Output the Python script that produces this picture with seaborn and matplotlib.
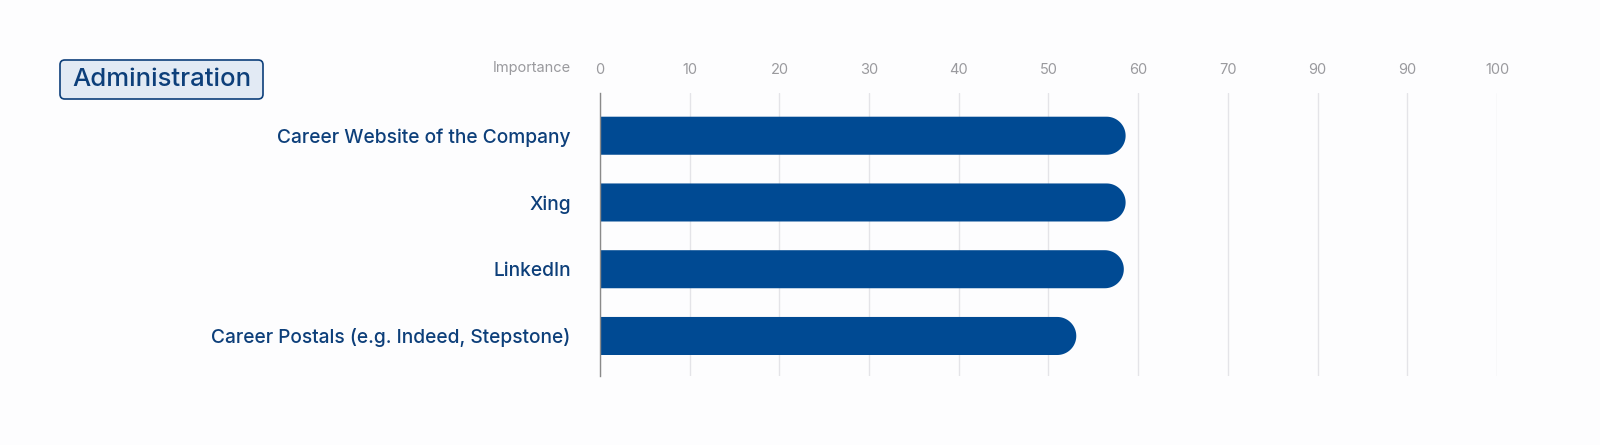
import matplotlib
matplotlib.use("Agg")
import matplotlib.pyplot as plt
from matplotlib.patches import FancyBboxPatch, Polygon
import seaborn as sns
import pandas as pd
import numpy as np

channels = ["Career Website of the Company", "Xing", "LinkedIn",
            "Career Postals (e.g. Indeed, Stepstone)"]
importance = [58.6, 58.6, 58.4, 53.1]
tick_values = [0, 10, 20, 30, 40, 50, 60, 70, 80, 90, 100]
tick_labels = ["0", "10", "20", "30", "40", "50", "60", "70", "90", "90", "100"]
title = "Administration"

navy = "#004a93"
text_blue = "#0d3f7a"
grey = "#9a9a9e"
bg = "#fdfdfe"

sns.set_theme(style="white")
plt.rcParams["font.family"] = ["Inter", "DejaVu Sans"]

df = pd.DataFrame({"channel": channels, "importance": importance})

fig = plt.figure(figsize=(16, 4.45), dpi=100, facecolor=bg)
ax = fig.add_axes([0.375, 0.155, 0.5606, 0.636])
ax.set_facecolor(bg)

sns.barplot(data=df, x="importance", y="channel", color=navy, width=0.57,
            saturation=1, ax=ax, zorder=3)

ax.set_xlim(0, 100)
ax.set_ylim(3.6, -0.64)

# turn each bar into a pill with a round right end (true semicircle in pixels)
px_x = ax.get_position().width * 1600 / 100
px_y = ax.get_position().height * 445 / 4.24
for p in list(ax.patches):
    x0, y0 = p.get_x(), p.get_y()
    w, h = p.get_width(), p.get_height()
    yc = y0 + h / 2
    rx = (h / 2) * px_y / px_x
    t = np.linspace(np.pi / 2, -np.pi / 2, 40)
    cap = np.column_stack([x0 + w - rx + rx * np.cos(t), yc + (h / 2) * np.sin(t)])
    pts = np.vstack([[x0, y0 + h], cap, [x0, y0]])
    p.remove()
    ax.add_patch(Polygon(pts, closed=True, fc=navy, ec="none", zorder=3))

ax.set_xticks(tick_values)
ax.set_xticklabels(tick_labels)
ax.xaxis.tick_top()
ax.tick_params(axis="x", length=0, pad=11.5, labelsize=10.5, labelcolor=grey)
ax.tick_params(axis="y", length=0, pad=21, labelsize=13.8, labelcolor=text_blue)
for lab in ax.get_yticklabels():
    lab.set_fontweight("medium")
ax.grid(axis="x", color="#e4e4e8", linewidth=1, zorder=0)
ax.set_xlabel("")
ax.set_ylabel("")
for s in ["top", "right", "bottom"]:
    ax.spines[s].set_visible(False)
ax.spines["left"].set_color("#8a8a8a")
ax.spines["left"].set_linewidth(1)
ax.spines["left"].set_zorder(4)

fig.text(571 / 1600, 1 - 68 / 445, "Importance", ha="right", va="center",
         fontsize=10.5, color=grey)

# title badge
fig.add_artist(FancyBboxPatch((60 / 1600, 1 - 99 / 445), 203 / 1600, 39 / 445,
                              boxstyle="round,pad=0,rounding_size=0.003",
                              mutation_aspect=1600 / 445,
                              transform=fig.transFigure,
                              fc="#e2eaf4", ec=text_blue, lw=1.2))
fig.text(161.5 / 1600, 1 - 80 / 445, title, ha="center", va="center",
         fontsize=18.5, fontweight="medium", color=text_blue)

fig.savefig("out.png", dpi=100, facecolor=bg)
